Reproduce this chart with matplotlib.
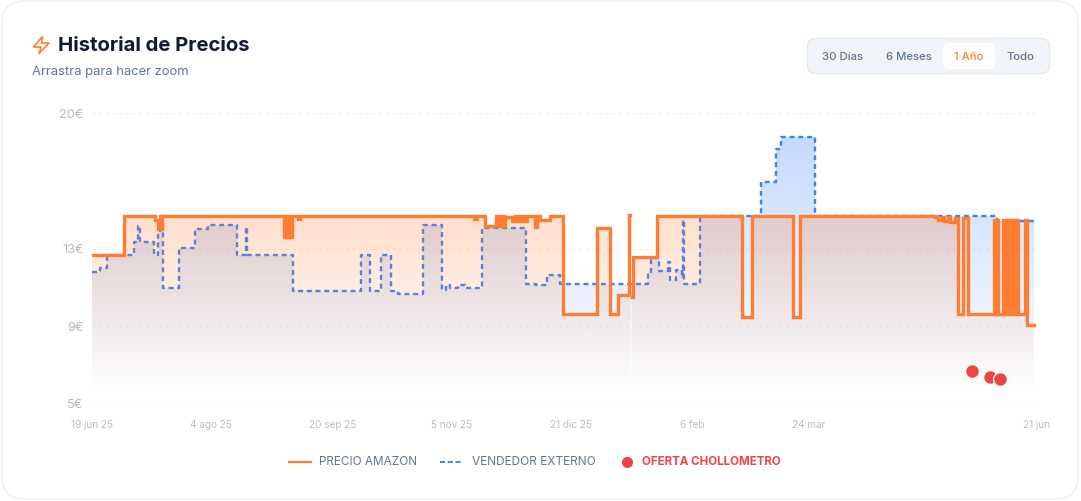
import matplotlib
matplotlib.use('Agg')
import matplotlib.pyplot as plt
import numpy as np
from matplotlib.patches import FancyBboxPatch, PathPatch, Polygon
from matplotlib.path import Path

plt.rcParams['font.family'] = ['Inter', 'DejaVu Sans']

# days since 19 jun 25, price holds until the next entry
amazon_days = [0, 12.4, 24.3, 25.5, 26.3, 26.7, 27.0, 74.2, 75.0, 75.3, 76.1, 76.5, 77.3, 79.6, 80.4, 147.6, 148.8,
               151.9, 156.1, 157.1, 158.0, 159.0, 159.6, 162.3, 163.4, 164.6, 165.8, 166.9, 168.1,
               171.2, 172.0, 173.1, 177.0, 182.0, 195.1, 200.2, 203.2, 207.5, 207.9, 208.7, 209.0, 218.3, 251.2,
               255.0, 270.9, 273.6, 325.7, 327.0, 328.4, 329.2, 330.8, 331.5, 333.5, 334.6, 336.5, 338.5,
               348.5, 349.1, 349.7, 350.1, 351.8, 352.4, 353.7, 354.3, 354.9, 355.5, 356.0, 356.6, 357.2, 357.8,
               360.5, 361.3, 364.0]
amazon_price = [12.68, 14.69, 14.48, 14.02, 14.69, 14.02, 14.69, 13.61, 14.69, 13.61, 14.69, 13.61, 14.69, 14.53, 14.69, 14.53, 14.69,
                14.18, 14.69, 14.18, 14.69, 14.18, 14.64, 14.43, 14.69, 14.43, 14.69, 14.43, 14.69,
                14.13, 14.69, 14.50, 14.69, 9.64, 14.07, 9.64, 10.62, 14.74, np.nan, 10.53, 12.58, 14.69, 9.48,
                14.69, 9.48, 14.69, 14.64, 14.48, 14.64, 14.43, 14.64, 14.38, 14.58, 9.64, 14.59, 9.64,
                14.48, 9.64, 14.48, 9.64, 14.48, 9.64, 14.48, 9.64, 14.48, 9.64, 14.48, 9.64, 14.48, 9.64,
                14.48, 9.07, 9.07]

vendor_days = [0, 3.1, 5.8, 16.2, 17.8, 18.5, 24.0, 25.5, 26.3, 27.4, 33.6, 39.8, 44.8, 56.0, 59.5, 59.9,
               77.7, 103.9, 107.4, 111.7, 115.5, 118.2, 127.9, 135.2, 136.8, 138.3, 141.4, 144.1, 150.7,
               167.7, 171.6, 175.8, 180.8, 214.8, 216.0, 219.1, 222.6, 223.3, 225.7, 228.0, 228.4, 228.7,
               234.9, 258.5, 264.3, 266.2, 279.4, 349.7, 364.0]
vendor_price = [11.80, 12.01, 12.68, 13.35, 14.18, 13.35, 12.68, 13.81, 14.23, 10.98, 13.04, 14.02, 14.23, 12.68, 14.12, 12.68,
                10.82, 12.68, 10.82, 12.68, 10.82, 10.67, 14.23, 10.88, 11.13, 10.98, 11.13, 10.98, 14.07,
                11.19, 11.13, 11.65, 11.19, 11.80, 12.53, 11.86, 12.32, 11.39, 11.91, 11.49, 14.48, 11.19,
                14.69, 16.44, 18.14, 18.76, 14.69, 14.43, 14.43]

deal_days = [340.0, 347.0, 350.9]
deal_price = [6.70, 6.37, 6.29]

y_ticks = [5, 9, 13, 20]
y_labels = ['5€', '9€', '13€', '20€']
x_ticks = [0, 46, 93, 139, 185, 232, 277, 365]
x_labels = ['19 jun 25', '4 ago 25', '20 sep 25', '5 nov 25', '21 dic 25', '6 feb', '24 mar', '21 jun']
ranges = ['30 Días', '6 Meses', '1 Año', 'Todo']
range_x = [843, 909, 969, 1020]

ORANGE = '#ff7d33'
BLUE = '#3b82f6'
W, H = 1081, 501

fig = plt.figure(figsize=(W / 100, H / 100), dpi=100, facecolor='white')

# page furniture, in pixels
bg = fig.add_axes([0, 0, 1, 1], zorder=0)
bg.set_xlim(0, W)
bg.set_ylim(H, 0)
bg.axis('off')
bg.add_patch(FancyBboxPatch((2, 1), W - 5, H - 3, boxstyle='round,pad=0,rounding_size=22',
                            fc='white', ec='#f0f1f3', lw=1.2))
bg.add_patch(Polygon([(42, 37), (33.5, 47), (41, 47), (39, 53.5), (49, 43), (41.5, 43), (42.5, 37)], closed=True,
                     fc='none', ec=ORANGE, lw=1.2, joinstyle='round'))
bg.text(58, 45.5, 'Historial de Precios', fontsize=14.6, fontweight='bold', color='#111a30', va='center')
bg.text(32, 72, 'Arrastra para hacer zoom', fontsize=9.35, color='#64748b', va='center')

bg.add_patch(FancyBboxPatch((807.5, 38.5), 242, 35, boxstyle='round,pad=0,rounding_size=8',
                            fc='#f1f4f9', ec='#e2e8f0', lw=0.9))
bg.add_patch(FancyBboxPatch((943, 43), 52, 26, boxstyle='round,pad=0,rounding_size=6',
                            fc='white', ec='none'))
for label, px in zip(ranges, range_x):
    bg.text(px, 56.5, label, fontsize=8.2, fontweight='medium', ha='center', va='center',
            color=ORANGE if label == '1 Año' else '#64748b')

# legend
bg.plot([289, 311], [462, 462], color=ORANGE, lw=1.6)
bg.text(319, 462, 'PRECIO AMAZON', fontsize=8.45, color='#64748b', va='center')
bg.plot([440, 462], [462, 462], color=BLUE, lw=1.4, dashes=(2.6, 1.4))
bg.text(472, 462, 'VENDEDOR EXTERNO', fontsize=8.55, color='#64748b', va='center')
bg.plot([627], [461.5], 'o', color='#ef4444', ms=8, mew=0)
bg.text(642, 462, 'OFERTA CHOLLOMETRO', fontsize=8.35, fontweight='bold', color='#ef4444', va='center')

# chart
ax = fig.add_axes([92 / W, 1 - 404 / H, 946 / W, 291 / H], zorder=1)
ax.patch.set_alpha(0)
ax.set_xlim(0, 365.5)
ax.set_ylim(5, 20)
for s in ax.spines.values():
    s.set_visible(False)
ax.set_yticks(y_ticks, y_labels, fontsize=9.2, color='#b3b8c4')
ax.set_xticks(x_ticks, x_labels, fontsize=7.2, color='#b9bdc7')
ax.tick_params(length=0)
ax.tick_params(axis='y', pad=6)
ax.tick_params(axis='x', pad=11.8)
ax.grid(axis='y', color='#eceef2', lw=0.8, dashes=(3, 3), zorder=1)
ax.set_axisbelow(True)


def gradient_fill(days, price, color, top_alpha, top_value, zorder):
    # step area fading out towards the bottom
    days = np.asarray(days)
    price = np.asarray(price)
    floor = 5.82
    rgba = np.zeros((256, 1, 4))
    rgba[..., :3] = matplotlib.colors.to_rgb(color)
    rgba[:, 0, 3] = np.linspace(top_alpha, 0, 256)
    breaks = np.where(np.isnan(price))[0]
    starts = [0] + list(breaks + 1)
    stops = list(breaks + 1) + [len(days)]
    for a, b in zip(starts, stops):
        d, p = days[a:b], price[a:b]
        if np.isnan(p[-1]):
            p = np.r_[p[:-1], p[-2]]
        xs = np.repeat(d, 2)[1:]
        ys = np.repeat(p, 2)[:-1]
        verts = np.r_[[[xs[0], floor]], np.c_[xs, ys], [[xs[-1], floor]], [[xs[0], floor]]]
        poly = PathPatch(Path(verts, closed=True), transform=ax.transData, fc='none', ec='none')
        ax.add_patch(poly)
        im = ax.imshow(rgba, extent=(0, 365.5, floor, top_value), origin='upper', aspect='auto',
                       zorder=zorder, interpolation='bilinear')
        im.set_clip_path(poly)
    ax.set_xlim(0, 365.5)
    ax.set_ylim(5, 20)


gradient_fill(vendor_days, vendor_price, BLUE, 0.3, 18.76, 2)
ax.plot(vendor_days, vendor_price, drawstyle='steps-post', color=BLUE, lw=1.7, dashes=(2.1, 1.6), zorder=3)
gradient_fill(amazon_days, amazon_price, ORANGE, 0.25, 14.74, 4)
ax.plot(amazon_days, amazon_price, drawstyle='steps-post', color=ORANGE, lw=2.4, zorder=5,
        solid_joinstyle='miter')
ax.plot(deal_days, deal_price, 'o', color='#ef4444', ms=10, mec='white', mew=1, zorder=6, clip_on=False)

fig.savefig('out.png', dpi=100)
